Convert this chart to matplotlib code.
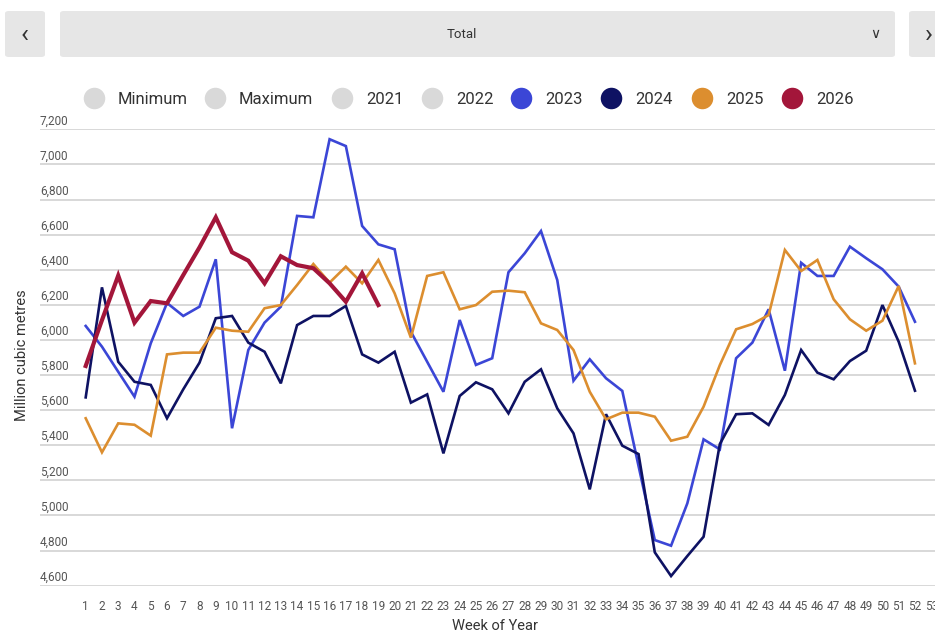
import numpy as np
import matplotlib
matplotlib.use("Agg")
import matplotlib.pyplot as plt
from matplotlib.patches import FancyBboxPatch
from matplotlib.lines import Line2D
import matplotlib.transforms as mtransforms

plt.rcParams['font.family'] = ['Roboto', 'DejaVu Sans']

# data (million cubic metres per week)
weeks = list(range(1, 53))
y2023 = [6080, 5962, 5819, 5677, 5981, 6211, 6137, 6190, 6460, 5497,
         5943, 6099, 6190, 6707, 6699, 7144, 7105, 6650, 6545, 6517,
         6047, 5876, 5705, 6114, 5858, 5896, 6386, 6494, 6621, 6342,
         5768, 5890, 5782, 5710, 5282, 4860, 4828, 5069, 5434, 5377,
         5896, 5985, 6175, 5825, 6440, 6365, 6365, 6532, 6466, 6403,
         6304, 6104]
y2024 = [5673, 6300, 5876, 5762, 5744, 5554, 5719, 5871, 6124, 6137,
         5985, 5933, 5753, 6085, 6137, 6137, 6194, 5918, 5871, 5933,
         5643, 5690, 5354, 5681, 5759, 5719, 5582, 5762, 5833, 5611,
         5468, 5149, 5577, 5398, 5350, 4790, 4655, 4769, 4879, 5407,
         5577, 5582, 5516, 5687, 5943, 5814, 5776, 5880, 5939, 6199,
         5990, 5711]
y2025 = [5554, 5360, 5525, 5517, 5455, 5918, 5928, 5928, 6070, 6053,
         6047, 6181, 6199, 6313, 6433, 6327, 6418, 6323, 6456, 6266,
         6013, 6365, 6386, 6175, 6199, 6275, 6281, 6272, 6095, 6057,
         5943, 5705, 5548, 5586, 5586, 5563, 5426, 5449, 5620, 5857,
         6061, 6091, 6142, 6513, 6393, 6456, 6232, 6118, 6053, 6110,
         6308, 5867]
y2026 = [5852, 6113, 6367, 6099, 6222, 6209, 6370, 6528, 6699, 6500,
         6452, 6323, 6477, 6427, 6409, 6323, 6218, 6380, 6199]

yticks = list(range(4600, 7201, 200))
xticks = list(range(1, 54))
legend_labels = ['Minimum', 'Maximum', '2021', '2022', '2023', '2024', '2025', '2026']
legend_colors = ['#d9d9d9', '#d9d9d9', '#d9d9d9', '#d9d9d9',
                 '#3b46d6', '#0e1263', '#dc8e2f', '#a3163a']

W, H = 935, 632
fig = plt.figure(figsize=(W / 100, H / 100), dpi=100)


def fx(x):
    return x / W


def fy(y):
    return 1 - y / H


# plot area, in pixels: x 40..935, y 129.4 (7200) .. 585.7 (4600)
ax = fig.add_axes([fx(40), fy(585.7), fx(935 - 40), (585.7 - 129.4) / H])
px_per_week = 16.26
ax.set_xlim(1 - (85.7 - 40) / px_per_week, 1 + (935 - 85.7) / px_per_week)
ax.set_ylim(4600, 7200)

ax.plot(weeks, y2023, color=legend_colors[4], lw=1.9, zorder=3, solid_joinstyle='miter')
ax.plot(weeks, y2024, color=legend_colors[5], lw=1.9, zorder=4, solid_joinstyle='miter')
ax.plot(weeks, y2025, color=legend_colors[6], lw=1.9, zorder=5, solid_joinstyle='miter')
ax.plot(weeks[:len(y2026)], y2026, color=legend_colors[7], lw=3.0, zorder=6,
        solid_joinstyle='miter')

ax.set_yticks(yticks)
ax.set_yticklabels([])
ax.tick_params(axis='y', length=0)
ax.grid(axis='y', color='#d6d6d6', lw=1.3, zorder=0)
ax.set_xticks(xticks)
ax.set_xticklabels([str(w) for w in xticks], fontsize=8.5, color='#555555')
ax.tick_params(axis='x', length=0, pad=10)
for s in ax.spines.values():
    s.set_visible(False)

trans = mtransforms.blended_transform_factory(ax.transAxes, ax.transData)
for v in yticks:
    ax.annotate(f"{v:,}", xy=(0, v), xycoords=trans, xytext=(0, 1.5),
                textcoords='offset points', ha='left', va='bottom',
                fontsize=8.5, color='#555555', annotation_clip=False)

fig.text(fx(22), fy(355), 'Million cubic metres', rotation=90, ha='center',
         va='center', fontsize=10.5, color='#333333')
fig.text(fx(495), fy(626), 'Week of Year', ha='center', va='center',
         fontsize=10.5, color='#333333')

# header: navigation buttons and selector box
boxes = [(5, 11, 40, 46), (60, 11, 835, 46), (909, 11, 60, 46)]
for bx, by, bw, bh in boxes:
    fig.patches.append(FancyBboxPatch(
        (fx(bx), fy(by + bh)), fx(bw), bh / H,
        boxstyle="round,pad=0,rounding_size=0.004",
        transform=fig.transFigure, facecolor='#e6e6e6', edgecolor='none'))
fig.text(fx(25), fy(35), '\u2039', ha='center', va='center', fontsize=19, color='#333333')
fig.text(fx(929), fy(35), '\u203a', ha='center', va='center', fontsize=19, color='#333333')
fig.text(fx(462), fy(34), 'Total', ha='center', va='center', fontsize=9.5, color='#333333')
fig.text(fx(875), fy(34), '\u2228', ha='center', va='center', fontsize=10, color='#333333')

# legend
circle_x = [94, 215, 342, 432, 521, 611, 702, 792]
for cx, lab, col in zip(circle_x, legend_labels, legend_colors):
    fig.add_artist(Line2D([fx(cx)], [fy(98)], marker='o', markersize=15.5,
                          color=col, markeredgecolor='none',
                          transform=fig.transFigure))
    fig.text(fx(cx + 24), fy(99), lab, ha='left', va='center',
             fontsize=12, color='#333333')

fig.savefig('out.png', dpi=100)
